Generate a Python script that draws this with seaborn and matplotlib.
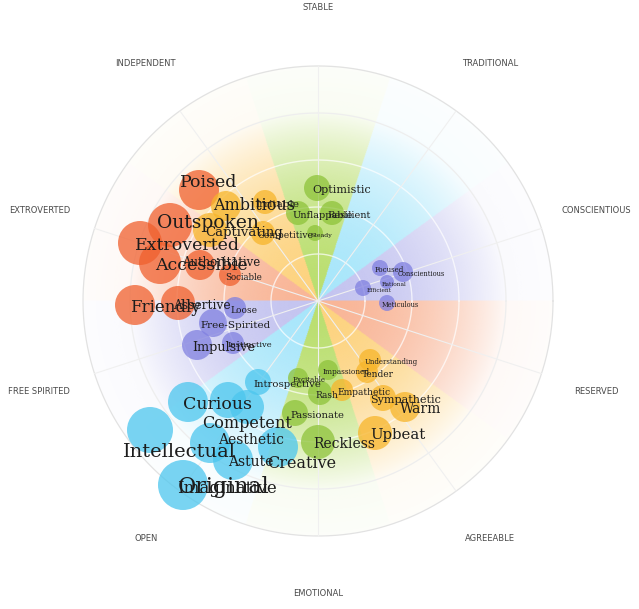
import numpy as np
import pandas as pd
import matplotlib
matplotlib.use('Agg')
import matplotlib.pyplot as plt
import seaborn as sns

# ---- data -------------------------------------------------------------
axis_names = ['STABLE', 'TRADITIONAL', 'CONSCIENTIOUS', 'RESERVED', 'AGREEABLE',
              'EMOTIONAL', 'OPEN', 'FREE SPIRITED', 'EXTROVERTED', 'INDEPENDENT']
axis_angles = [90, 54, 18, -18, -54, -90, -126, -162, 162, 126]

traits = ['Poised', 'Outspoken', 'Extroverted', 'Accessible', 'Authoritative', 'Sociable',
          'Friendly', 'Assertive',
          'Ambitious', 'Irritable', 'Captivating', 'Competitive',
          'Optimistic', 'Unflappable', 'Resilient', 'Steady',
          'Focused', 'Conscientious', 'Rational', 'Efficient', 'Meticulous',
          'Loose', 'Free-Spirited', 'Impulsive', 'Instinctive',
          'Introspective', 'Curious', 'Competent', 'Imaginative', 'Intellectual',
          'Aesthetic', 'Astute', 'Original', 'Creative',
          'Impassioned', 'Excitable', 'Rash', 'Passionate', 'Reckless',
          'Understanding', 'Tender', 'Empathetic', 'Sympathetic', 'Warm', 'Upbeat']
groups = ['extroverted'] * 8 + ['independent'] * 4 + ['stable'] * 4 + \
         ['conscientious'] * 5 + ['free'] * 4 + ['open'] * 9 + \
         ['emotional'] * 5 + ['agreeable'] * 6
# position on the map (outer ring = 235), right / up from the centre
x_score = [-119, -148, -178, -158, -118, -88, -183, -140,
           -92, -53, -108, -55,
           -1, -20, 14, -3,
           62, 85, 69, 45, 69,
           -83, -105, -121, -85,
           -60, -130, -90, -71, -168, -108, -85, -135, -40,
           10, -20, 2, -23, 0,
           52, 49, 24, 65, 87, 57]
y_score = [111, 76, 58, 38, 36, 26, -4, -2,
           95, 99, 71, 68,
           113, 88, 88, 68,
           33, 29, 19, 13, -2,
           -7, -22, -44, -42,
           -81, -101, -99, -106, -129, -142, -159, -184, -146,
           -69, -77, -92, -112, -141,
           -59, -71, -89, -97, -106, -132]
weight = [20, 22, 22, 21, 15, 11, 20, 17,
          15, 12, 17, 12,
          13, 12, 12, 8,
          8, 10, 7, 8, 8,
          11, 14, 15, 11,
          13, 20, 18, 17, 23, 20, 20, 25, 20,
          10, 10, 12, 13, 17,
          11, 11, 11, 13, 15, 17]

df = pd.DataFrame({'trait': traits, 'group': groups, 'x': x_score,
                   'y': y_score, 'weight': weight})

# ---- style ------------------------------------------------------------
bubble_colors = {'extroverted': '#f0602e', 'independent': '#f7b52a',
                 'agreeable': '#f7b52a', 'stable': '#8ec33a', 'emotional': '#8ec33a',
                 'conscientious': '#8080e0', 'free': '#8080e0', 'open': '#4cc6ee'}
wedge_colors = ['#b9de6c', '#a6e6fb', '#c3c3f0', '#f9b495', '#fdd27c']

text_pt = {'Poised': 12.5, 'Outspoken': 13.5, 'Extroverted': 12.5, 'Accessible': 12.5,
           'Authoritative': 8.5, 'Sociable': 6.2, 'Friendly': 12, 'Assertive': 8.8,
           'Ambitious': 11.5, 'Irritable': 7.5, 'Captivating': 9.5, 'Competitive': 6.5,
           'Optimistic': 8, 'Unflappable': 7, 'Resilient': 7, 'Steady': 4.5,
           'Focused': 5, 'Conscientious': 4.8, 'Rational': 4.2, 'Efficient': 4.2,
           'Meticulous': 4.7, 'Loose': 6.5, 'Free-Spirited': 7.5, 'Impulsive': 9.2,
           'Instinctive': 6, 'Introspective': 7.3, 'Curious': 12.5, 'Competent': 11.6,
           'Imaginative': 12, 'Intellectual': 14, 'Aesthetic': 10, 'Astute': 10,
           'Original': 16, 'Creative': 11.5, 'Impassioned': 5.3, 'Excitable': 5,
           'Rash': 6.5, 'Passionate': 7.2, 'Reckless': 10, 'Understanding': 5,
           'Tender': 6.5, 'Empathetic': 6.5, 'Sympathetic': 8, 'Warm': 10, 'Upbeat': 10.7}
# label nudges in pixels (right, down) from the default spot
nudge = {'Poised': (-14, -10), 'Outspoken': (-8, -4), 'Authoritative': (-13, -5),
         'Ambitious': (-8, -3), 'Irritable': (-5, 0), 'Free-Spirited': (-8, 0),
         'Sympathetic': (-8, 0), 'Competent': (-21, 21), 'Imaginative': (-65, 79),
         'Intellectual': (-22, 20), 'Aesthetic': (13, -5), 'Creative': (-6, 14),
         'Efficient': (9, 0)}

R = 235
sns.set_theme(style='white')
plt.rcParams['font.family'] = ['DejaVu Sans']

fig = plt.figure(figsize=(6.39, 6.09), dpi=100)
ax = fig.add_axes([0, 0, 1, 1])

# background wedges with radial fade
n = 700
g = np.linspace(-R - 2, R + 2, n)
gx, gy = np.meshgrid(g, g)
rr = np.hypot(gx, gy)
th = np.degrees(np.arctan2(gy, gx))
k = np.floor((108 - th) / 36).astype(int) % 10
rgb = np.array([matplotlib.colors.to_rgb(wedge_colors[i % 5]) for i in range(10)])
img = np.zeros((n, n, 4))
img[..., :3] = rgb[k]
alpha = np.where(rr < 190, 0.08 + 0.9 * (1 - (rr / 190) ** 2), 0.08 - 0.04 * (rr - 190) / 45)
alpha[rr > R] = 0
img[..., 3] = np.clip(alpha, 0, 1)
ax.imshow(img, origin='lower', extent=[-R - 2, R + 2, -R - 2, R + 2],
          interpolation='bilinear', zorder=0)

# rings and spokes
t = np.linspace(0, 2 * np.pi, 400)
for rad in [47, 94, 141]:
    ax.plot(rad * np.cos(t), rad * np.sin(t), color='white', alpha=0.7, lw=1.0, zorder=1)
ax.plot(188 * np.cos(t), 188 * np.sin(t), color='#eeeeee', lw=0.9, zorder=1)
ax.plot(R * np.cos(t), R * np.sin(t), color='#e2e2e2', lw=0.9, zorder=1)
for a in np.radians(np.arange(18, 378, 36)):
    ax.plot([0, R * np.cos(a)], [0, R * np.sin(a)], color='#f0f0f0', lw=0.8, zorder=1)

# bubbles
sizes = (2 * df['weight'] * 0.72) ** 2
sns.scatterplot(data=df, x='x', y='y', hue='group', palette=bubble_colors,
                s=sizes, alpha=0.75, linewidth=0, legend=False, zorder=3, ax=ax)

for _, row in df.iterrows():
    dx, dy = nudge.get(row['trait'], (0, 0))
    ax.text(row['x'] - 5 + dx, row['y'] - 2 - dy, row['trait'], ha='left', va='center',
            fontsize=text_pt[row['trait']], family='DejaVu Serif', color='#1c1c1c',
            zorder=4)

for name, ang in zip(axis_names, axis_angles):
    a = np.radians(ang)
    ax.text(293 * np.cos(a), 293 * np.sin(a), name, ha='center', va='center',
            fontsize=6, color='#4a4a4a')

ax.set_xlim(-318, 321)
ax.set_ylim(-308, 301)
ax.axis('off')
fig.savefig('out.png', dpi=100, facecolor='white')
